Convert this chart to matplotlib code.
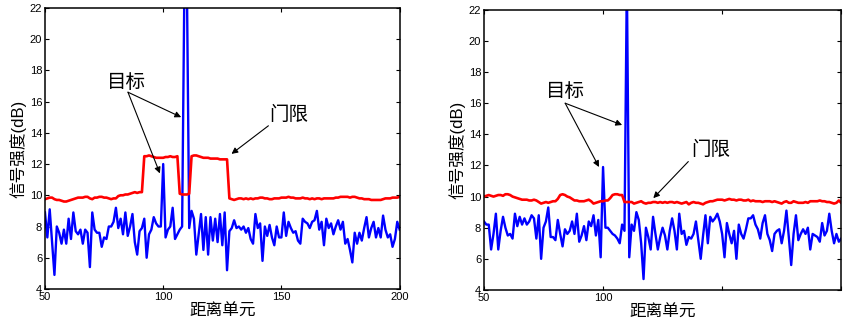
import numpy as np
import matplotlib
matplotlib.use("Agg")
import matplotlib.pyplot as plt

plt.rcParams['font.family'] = ['Liberation Sans', 'Noto Sans CJK SC', 'DejaVu Sans']

# 距离单元 50..200, one sample per cell
left_signal = [
    8.9, 7.3, 9.1, 7.0, 4.9, 8.0, 7.6, 6.9, 7.8, 6.9,
    8.5, 7.2, 8.9, 7.7, 7.5, 7.8, 6.9, 7.8, 7.6, 5.4,
    8.9, 7.8, 7.6, 7.6, 6.7, 7.3, 7.2, 8.0, 8.0, 8.3,
    9.2, 7.9, 8.5, 7.5, 8.9, 7.4, 8.0, 8.8, 7.0, 6.2,
    7.7, 7.9, 8.5, 6.0, 7.5, 7.8, 8.6, 8.2, 8.0, 8.0,
    12.0, 7.3, 7.8, 8.0, 9.2, 7.2, 7.5, 7.8, 8.0, 24.0,
    24.0, 7.9, 9.0, 8.5, 6.2, 7.5, 8.8, 6.5, 8.6, 6.2,
    8.6, 7.1, 8.5, 7.0, 8.8, 6.8, 8.9, 5.2, 7.7, 7.9,
    8.4, 7.9, 8.0, 7.8, 8.0, 7.6, 7.9, 7.2, 6.9, 8.8,
    7.9, 8.2, 5.8, 8.0, 7.4, 8.1, 7.3, 6.8, 8.0, 7.3,
    7.3, 8.9, 7.4, 8.3, 7.9, 7.6, 7.7, 7.1, 6.9, 8.5,
    8.3, 8.2, 7.9, 8.3, 8.4, 9.0, 7.8, 8.3, 6.8, 8.5,
    7.9, 8.2, 7.5, 8.0, 8.4, 7.8, 8.3, 6.9, 7.2, 6.5,
    5.7, 7.6, 6.9, 7.6, 7.1, 7.9, 8.6, 7.3, 7.9, 8.3,
    7.3, 7.9, 7.3, 8.7, 7.8, 7.3, 7.5, 6.7, 7.2, 8.3,
    7.8,
]
left_threshold = [
    9.75, 9.8, 9.85, 9.85, 9.75, 9.7, 9.7, 9.65, 9.6, 9.6,
    9.65, 9.7, 9.75, 9.8, 9.85, 9.85, 9.85, 9.9, 9.9, 9.8,
    9.75, 9.85, 9.85, 9.9, 9.9, 9.85, 9.85, 9.8, 9.75, 9.8,
    9.8, 9.95, 10.0, 10.0, 10.05, 10.05, 10.1, 10.15, 10.2, 10.15,
    10.2, 10.2, 12.5, 12.5, 12.55, 12.5, 12.45, 12.4, 12.4, 12.4,
    12.4, 12.45, 12.45, 12.5, 12.45, 12.45, 12.5, 10.1, 10.05, 10.05,
    10.05, 10.1, 12.5, 12.55, 12.55, 12.5, 12.45, 12.4, 12.4, 12.4,
    12.35, 12.35, 12.35, 12.35, 12.3, 12.3, 12.3, 12.3, 9.8, 9.75,
    9.7, 9.75, 9.8, 9.8, 9.75, 9.8, 9.75, 9.8, 9.75, 9.8,
    9.8, 9.85, 9.85, 9.8, 9.8, 9.75, 9.75, 9.8, 9.8, 9.8,
    9.85, 9.85, 9.85, 9.9, 9.85, 9.85, 9.8, 9.8, 9.8, 9.85,
    9.8, 9.8, 9.75, 9.8, 9.75, 9.8, 9.8, 9.75, 9.8, 9.8,
    9.8, 9.8, 9.8, 9.85, 9.85, 9.9, 9.9, 9.9, 9.9, 9.85,
    9.9, 9.9, 9.85, 9.8, 9.8, 9.75, 9.75, 9.75, 9.7, 9.7,
    9.7, 9.7, 9.7, 9.75, 9.8, 9.8, 9.8, 9.85, 9.85, 9.85,
    9.9,
]
right_signal = [
    8.4, 8.2, 8.2, 6.6, 7.6, 8.9, 6.6, 7.8, 8.7, 8.0,
    7.5, 7.6, 7.3, 8.9, 8.1, 8.7, 8.2, 8.6, 8.2, 8.4,
    8.8, 8.6, 7.3, 8.8, 6.0, 8.0, 8.4, 9.3, 7.4, 7.4,
    7.2, 8.5, 7.6, 6.8, 7.9, 7.6, 7.8, 8.4, 7.6, 8.9,
    7.1, 7.5, 8.1, 7.2, 8.4, 8.1, 8.8, 7.5, 8.5, 6.1,
    11.9, 8.0, 8.0, 7.8, 7.6, 7.5, 7.3, 7.0, 8.2, 7.8,
    24.0, 6.1, 8.2, 7.8, 9.0, 8.5, 7.0, 4.7, 8.0, 7.4,
    6.6, 8.7, 7.6, 6.6, 7.4, 8.0, 7.5, 6.6, 7.8, 8.6,
    7.8, 6.6, 8.9, 7.6, 7.8, 6.9, 7.4, 7.3, 7.6, 8.4,
    7.2, 6.0, 7.5, 8.8, 7.0, 8.7, 8.4, 8.6, 8.9, 8.4,
    7.6, 6.1, 8.3, 7.6, 7.0, 7.8, 6.0, 8.2, 7.6, 7.3,
    7.9, 8.6, 8.6, 8.8, 8.2, 7.9, 7.3, 8.3, 8.8, 7.6,
    7.2, 6.5, 7.6, 7.8, 7.9, 7.0, 7.8, 9.1, 7.4, 5.6,
    7.6, 8.8, 7.2, 7.6, 7.9, 7.6, 8.0, 6.6, 7.6, 7.5,
    7.4, 7.1, 8.3, 7.5, 7.8, 8.9, 7.8, 7.0, 7.6, 7.1,
    7.3,
]
right_threshold = [
    10.0, 10.05, 10.1, 10.05, 10.0, 10.05, 10.1, 10.1, 10.05, 10.15,
    10.15, 10.1, 10.0, 9.95, 9.9, 9.85, 9.8, 9.8, 9.8, 9.75,
    9.75, 9.8, 9.75, 9.65, 9.55, 9.6, 9.65, 9.6, 9.65, 9.7,
    9.7, 9.85, 10.1, 10.15, 10.1, 10.0, 9.95, 9.85, 9.75, 9.75,
    9.7, 9.7, 9.7, 9.75, 9.8, 9.7, 9.55, 9.6, 9.65, 9.7,
    9.7, 9.75, 9.75, 9.9, 10.1, 10.15, 10.15, 10.1, 10.1, 9.65,
    9.65, 9.65, 9.65, 9.55, 9.6, 9.65, 9.7, 9.6, 9.55, 9.6,
    9.6, 9.65, 9.65, 9.6, 9.65, 9.6, 9.65, 9.6, 9.65, 9.65,
    9.6, 9.65, 9.6, 9.55, 9.6, 9.65, 9.5, 9.6, 9.65, 9.6,
    9.6, 9.55, 9.5, 9.6, 9.65, 9.7, 9.7, 9.75, 9.8, 9.8,
    9.8, 9.75, 9.8, 9.85, 9.8, 9.8, 9.75, 9.8, 9.8, 9.75,
    9.75, 9.8, 9.7, 9.75, 9.7, 9.7, 9.7, 9.65, 9.7, 9.7,
    9.7, 9.65, 9.7, 9.65, 9.6, 9.55, 9.65, 9.7, 9.6, 9.6,
    9.7, 9.65, 9.6, 9.6, 9.6, 9.65, 9.6, 9.7, 9.7, 9.7,
    9.7, 9.75, 9.7, 9.7, 9.65, 9.65, 9.6, 9.55, 9.6, 9.75,
    9.6,
]

x_ticks = [50, 100, 150, 200]
left_tick_labels = ['50', '100', '150', '200']
right_tick_labels = ['50', '100', '', '']
y_ticks = [4, 6, 8, 10, 12, 14, 16, 18, 20, 22]

# annotation positions in data units: text, arrow tail, arrow tips
left_target_text = (84.6, 17.2)
left_target_tail = (85.1, 16.6)
left_target_tips = [(98.6, 11.4), (107.6, 15.0)]
left_gate_text = (153.2, 15.15)
left_gate_tail = (144.5, 14.45)
left_gate_tip = (128.9, 12.65)

right_target_text = (84.1, 16.7)
right_target_tail = (84.1, 16.0)
right_target_tips = [(98.3, 11.9), (108.0, 14.6)]
right_gate_text = (145.1, 13.0)
right_gate_tail = (135.8, 12.25)
right_gate_tip = (121.1, 9.9)

fig = plt.figure(figsize=(8.65, 3.28), dpi=100)
ax1 = fig.add_axes([0.052, 0.119, 0.410, 0.857])
ax2 = fig.add_axes([0.5595, 0.116, 0.413, 0.854])


def draw_panel(ax, signal, threshold, tick_labels, t_text, t_tail, t_tips, g_text, g_tail, g_tip):
    x = np.arange(50, 50 + len(signal))
    ax.plot(x, signal, color='#0000ff', linewidth=1.7)
    ax.plot(np.arange(50, 50 + len(threshold)), threshold, color='#ff0000', linewidth=1.9)
    ax.set_xlim(50, 200)
    ax.set_ylim(4, 22)
    ax.set_xticks(x_ticks)
    ax.set_xticklabels(tick_labels)
    ax.set_yticks(y_ticks)
    ax.tick_params(direction='in', top=True, right=True, length=3, width=0.8,
                   labelsize=8, pad=2)
    for s in ax.spines.values():
        s.set_linewidth(1.1)
    ax.set_xlabel('距离单元', fontsize=12, labelpad=1)
    ax.set_ylabel('信号强度(dB)', fontsize=12, labelpad=2)

    ax.text(t_text[0], t_text[1], '目标', fontsize=14, ha='center', va='center')
    for tip in t_tips:
        ax.annotate('', xy=tip, xytext=t_tail,
                    arrowprops=dict(arrowstyle='-|>', color='black', lw=0.8,
                                    mutation_scale=9, shrinkA=0, shrinkB=0))
    ax.text(g_text[0], g_text[1], '门限', fontsize=14, ha='center', va='center')
    ax.annotate('', xy=g_tip, xytext=g_tail,
                arrowprops=dict(arrowstyle='-|>', color='black', lw=0.8,
                                mutation_scale=9, shrinkA=0, shrinkB=0))


draw_panel(ax1, left_signal, left_threshold, left_tick_labels,
           left_target_text, left_target_tail, left_target_tips,
           left_gate_text, left_gate_tail, left_gate_tip)
draw_panel(ax2, right_signal, right_threshold, right_tick_labels,
           right_target_text, right_target_tail, right_target_tips,
           right_gate_text, right_gate_tail, right_gate_tip)

fig.savefig('out.png', dpi=100)
